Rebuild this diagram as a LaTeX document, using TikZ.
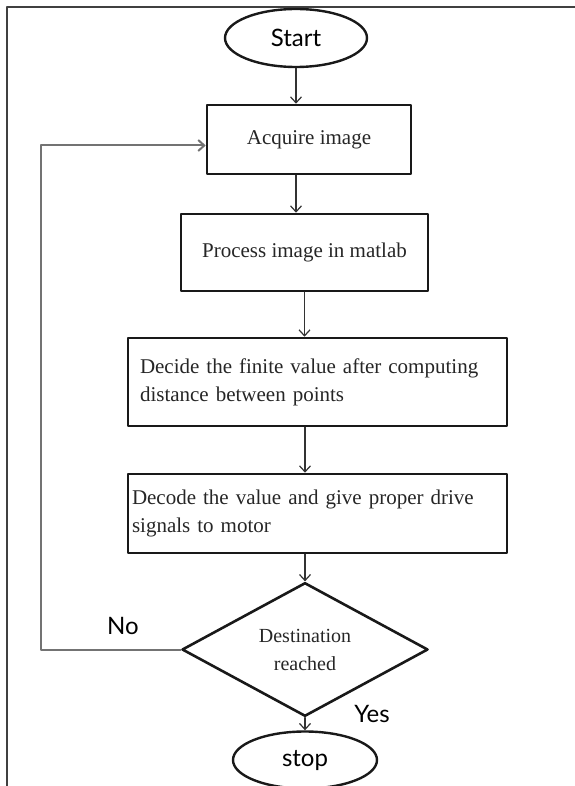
\documentclass[tikz,border=0pt]{standalone}
\usepackage{fontspec}
\setmainfont{Liberation Serif}
\newfontfamily\chukhong{Lato}
\usetikzlibrary{shapes.geometric,arrows.meta}

\begin{document}
\begin{tikzpicture}[line cap=round,line join=round,x=1pt,y=-1pt,
	hop/.style={draw=black!90,line width=2.6pt,rectangle,inner sep=0pt,text=black!85,font=\fontsize{21}{28}\selectfont},
	elip/.style={draw=black!90,line width=2.4pt,ellipse,inner sep=0pt,font=\chukhong\fontsize{24}{28}\selectfont},
	thoi/.style={draw=black!90,line width=2.6pt,diamond,inner sep=0pt,align=center,text=black!85,font=\fontsize{20}{28}\selectfont},
	muiten/.style={draw=black!80,line width=1.2pt,-{Straight Barb[length=6pt,width=11pt]}},
	nhan/.style={font=\chukhong\fontsize{24}{28}\selectfont}]
	
	\useasboundingbox (0,0) rectangle (574,786);
	
	%khung
	\path[draw=black!75,line width=2pt] (7,792) -- (7,7) -- (580,7);
	
	%bắt đầu
	\node[elip,minimum width=142pt,minimum height=58pt] (batdau) at (296,38) {Start};
	
	%các hộp
	\node[hop,minimum width=204pt,minimum height=69pt] (anh) at (309,139.5) {Acquire image};
	\node[hop,minimum width=247pt,minimum height=77pt] (xuly) at (304.5,252.5) {Process image in matlab};
	\node[hop,minimum height=88pt,text width=355pt,inner xsep=12pt,align=left] (quyetdinh) at (317.5,382)
	{Decide the finite value after computing\\distance between points};
	\node[hop,minimum height=79pt,text width=371pt,inner xsep=4pt,align=left] (giaima) at (317.5,513.5)
	{Decode the value and\ give proper drive\\signals to motor};
	
	%hình thoi
	\node[thoi,minimum width=246pt,minimum height=95pt] (dich) at (305,649.5) {Destination\\reached};
	
	%kết thúc
	\node[elip,minimum width=144pt,minimum height=57pt] (dung) at (305,760) {stop};
	
	\node[nhan] (khong) at (123,626) {No};
	\node[nhan] (co) at (372,714) {Yes};
	
	%mũi tên
	\draw[muiten] (batdau.south) -- (batdau.south |- anh.north);
	\draw[muiten] (anh.south -| batdau.south) -- (xuly.north -| batdau.south);
	\draw[muiten] (xuly.south) -- (xuly.south |- quyetdinh.north);
	\draw[muiten] (quyetdinh.south -| dich.north) -- (giaima.north -| dich.north);
	\draw[muiten] (giaima.south -| dich.north) -- (dich.north);
	\draw[muiten] (dich.south) -- (dung.north);
	
	%quay lại
	\coordinate (goc) at (41,649.5);
	\draw[muiten,draw=black!55,line width=2pt] (dich.west) -- (goc) |- ([yshift=-6pt]anh.west);
\end{tikzpicture}
\end{document}
